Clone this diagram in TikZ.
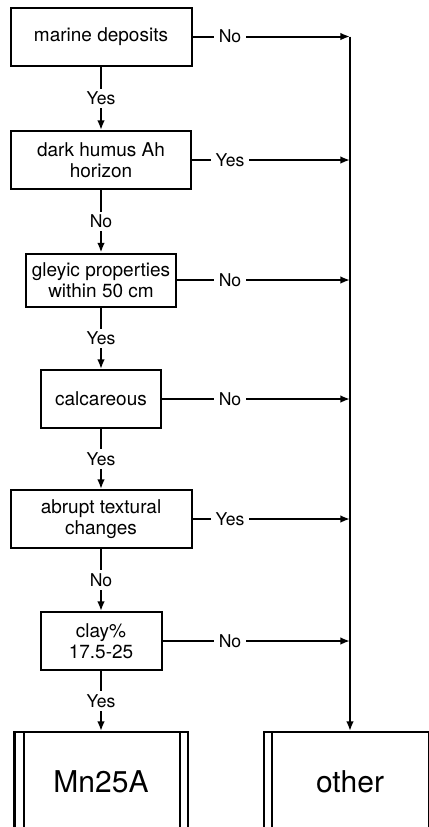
\documentclass[tikz,border=0pt]{standalone}
\usepackage{fontspec}
\setmainfont{TeX Gyre Heros}
\usetikzlibrary{arrows.meta}
\tikzset{
	% Boxes of the key
	box/.style={draw, line width=1pt, align=center, inner sep=1pt, minimum height=29pt, font=\fontsize{9.5}{10.5}\selectfont},
	final/.style={draw, line width=1pt, minimum width=86.5pt, minimum height=50pt, font=\fontsize{15}{16}\selectfont},
	% Answers on the connectors
	answer/.style={fill=white, inner xsep=2.5pt, inner ysep=1.5pt, font=\fontsize{8.8}{9}\selectfont},
	arr/.style={line width=1pt, -{Latex[length=4.8pt,width=3.8pt]}}
}
\begin{document}
\begin{tikzpicture}[x=0.5pt,y=-0.5pt]
		\clip (0,0) rectangle (429,827);
		\coordinate (lx) at (230,0);
		\coordinate (rail) at (350,0);
		\node [box, minimum width=90.5pt] (marine) at (101,36.5) {marine deposits};
		\node [box, minimum width=90pt] (humus) at (101,160) {dark humus Ah\\horizon};
		\node [box, minimum width=75pt, minimum height=26.5pt] (gley) at (101,280) {gleyic properties\\within 50 cm};
		\node [box, minimum width=60pt] (calc) at (101,399) {calcareous};
		\node [box, minimum width=90.5pt] (abrupt) at (101,519) {abrupt textural\\changes};
		\node [box, minimum width=60.5pt] (clay) at (101,641) {clay\%\\17.5-25};
		\node [final] (mn) at (101,782) {Mn25A};
		\node [final] (other) at (350,782) {other};
		\draw [line width=1pt] ([xshift=5pt]mn.north west) -- ([xshift=5pt]mn.south west);
		\draw [line width=1pt] ([xshift=-4.5pt]mn.north east) -- ([xshift=-4.5pt]mn.south east);
		\draw [line width=1pt] ([xshift=4.5pt]other.north west) -- ([xshift=4.5pt]other.south west);
		\draw [line width=1pt] ([xshift=-4.5pt]other.north east) -- ([xshift=-4.5pt]other.south east);
		% down the key
		\draw [arr] (marine) -- node [answer] {Yes} (humus);
		\draw [arr] (humus) -- node [answer] {No} (gley);
		\draw [arr] (gley) -- node [answer] {Yes} (calc);
		\draw [arr] (calc) -- node [answer] {Yes} (abrupt);
		\draw [arr] (abrupt) -- node [answer] {No} (clay);
		\draw [arr] (clay) -- node [answer] {Yes} (mn);
		% out to other
		\draw [arr] (marine.east -| rail) -- (other.north);
		\draw [arr] (marine.east) -- (marine.east -| rail);
		\draw [arr] (humus.east) -- (humus.east -| rail);
		\draw [arr] (gley.east) -- (gley.east -| rail);
		\draw [arr] (calc.east) -- (calc.east -| rail);
		\draw [arr] (abrupt.east) -- (abrupt.east -| rail);
		\draw [arr] (clay.east) -- (clay.east -| rail);
		\node [answer] (a1) at (marine.east -| lx) {No};
		\node [answer] (a2) at (humus.east -| lx) {Yes};
		\node [answer] (a3) at (gley.east -| lx) {No};
		\node [answer] (a4) at (calc.east -| lx) {No};
		\node [answer] (a5) at (abrupt.east -| lx) {Yes};
		\node [answer] (a6) at (clay.east -| lx) {No};
	\end{tikzpicture}
\end{document}
